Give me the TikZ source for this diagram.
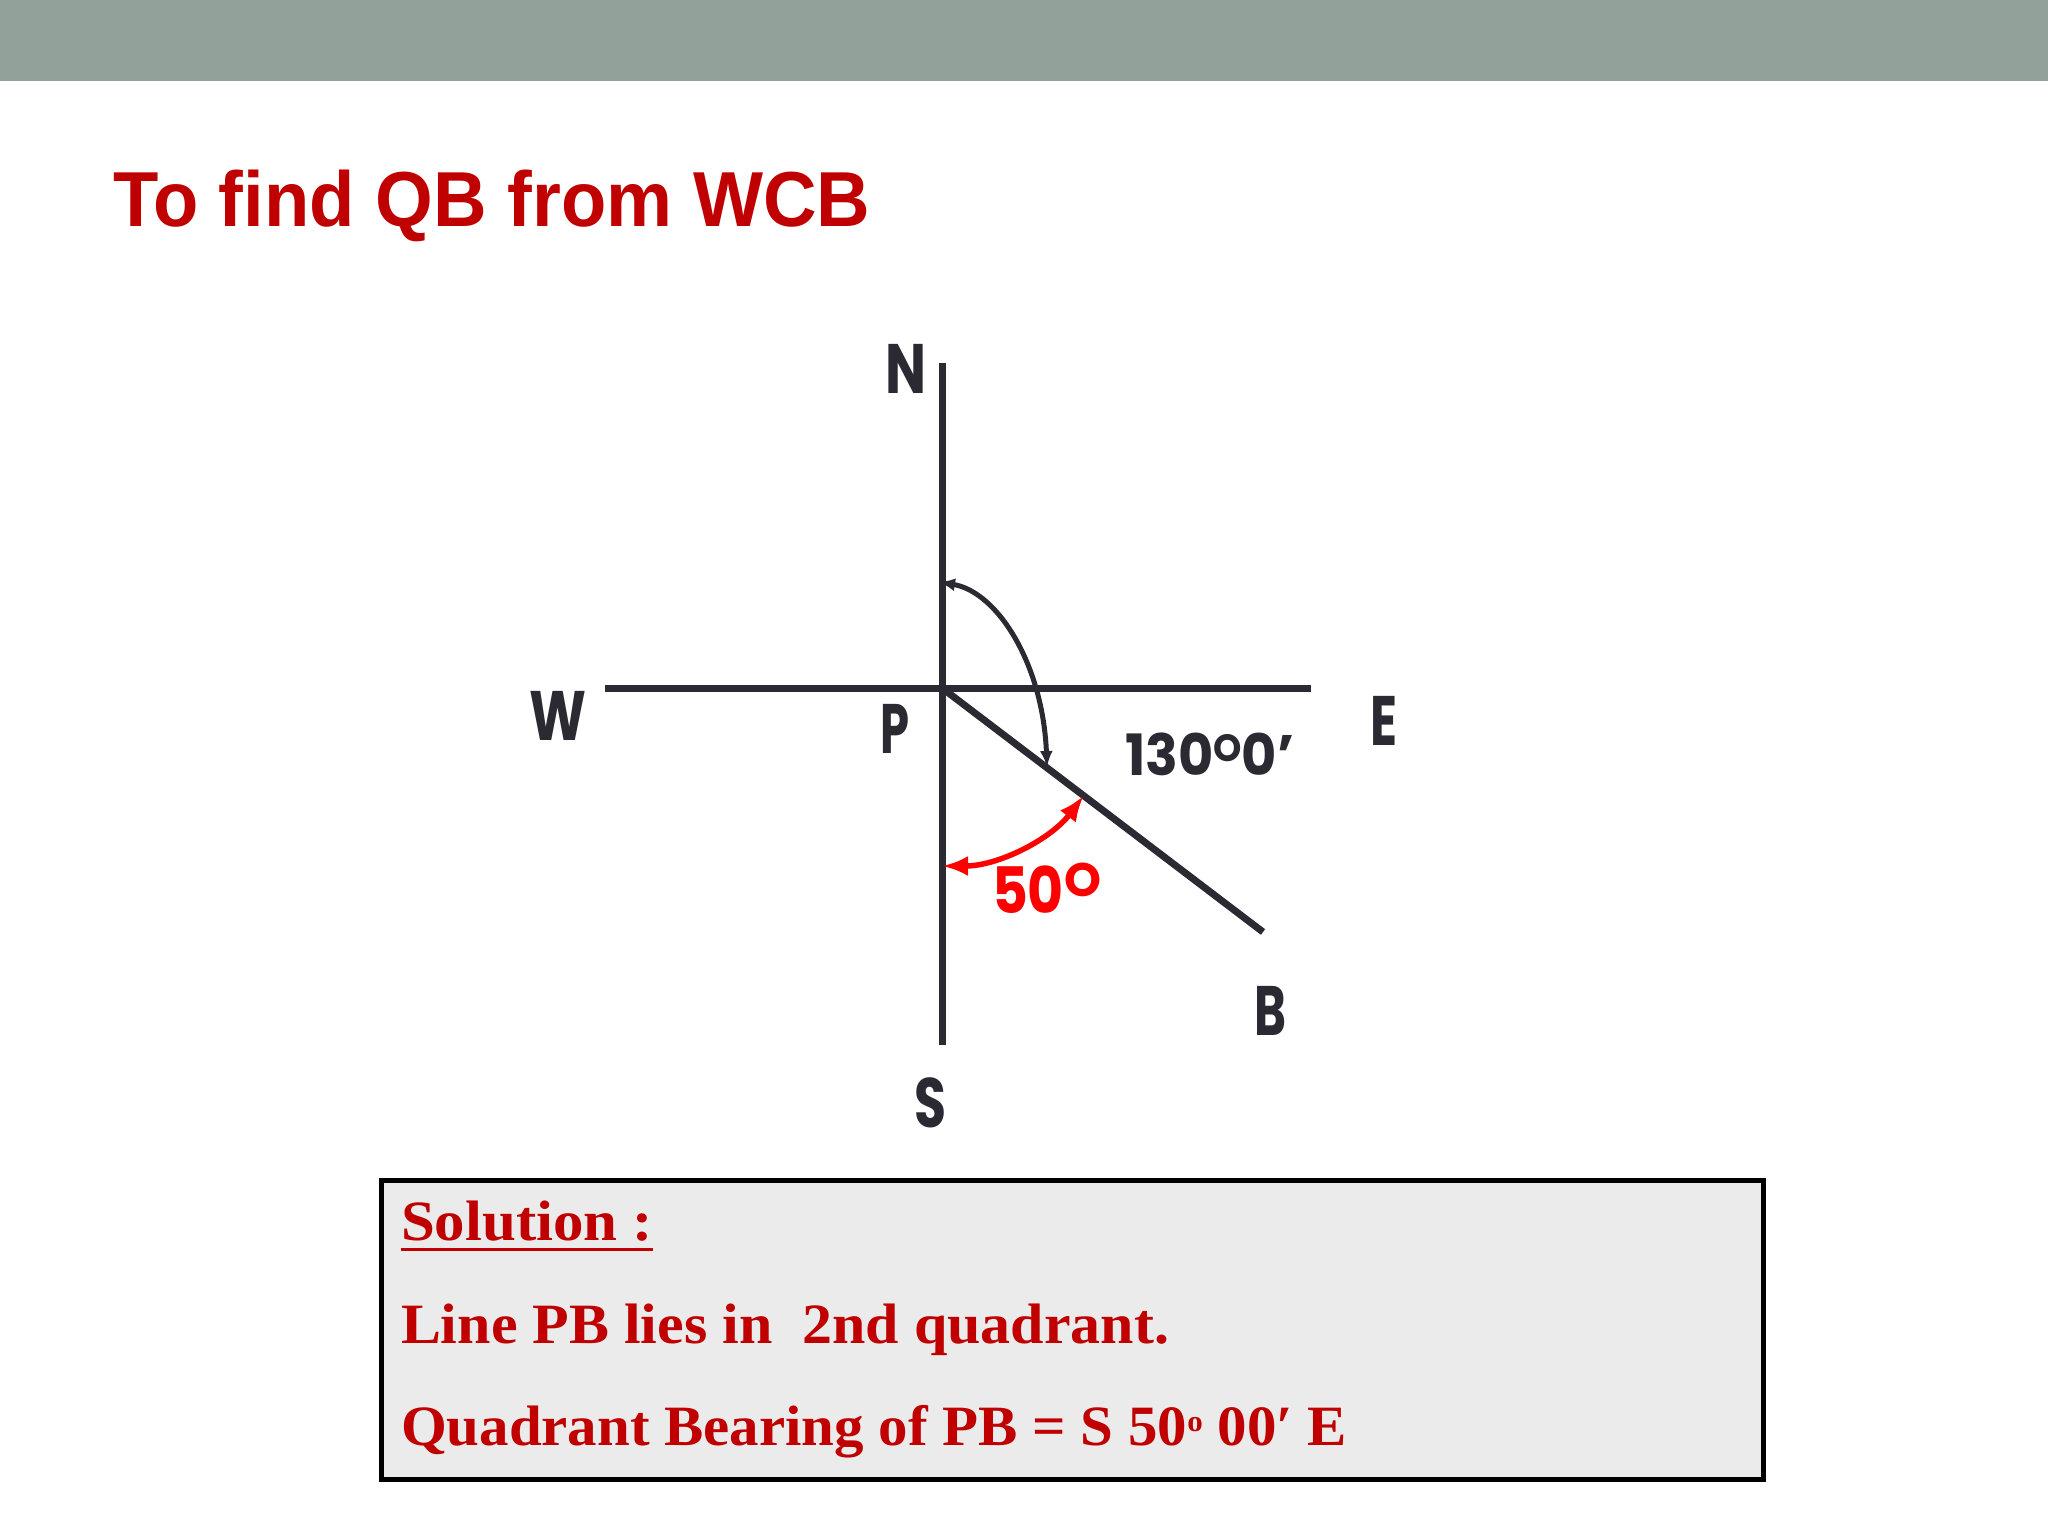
\documentclass[tikz,border=0pt]{standalone}
\usepackage{fontspec}
\setmainfont{Liberation Serif}
\newfontfamily\titlefont{Liberation Sans}
\newfontfamily\geofont{Poppins}
\usetikzlibrary{arrows.meta,calc}
\definecolor{barcol}{HTML}{92A199}
\definecolor{titlered}{HTML}{C00000}
\definecolor{ink}{HTML}{2B2A32}
\definecolor{boxfill}{HTML}{EBEBEB}
\definecolor{brightred}{HTML}{FF0000}
\newcommand{\fitw}[2]{\resizebox{#1}{\height}{#2}}
\begin{document}
\begin{tikzpicture}[x=1pt,y=-1pt,
  axis/.style={draw=ink,line width=7pt},
  lbl/.style={inner sep=0pt,outer sep=0pt,anchor=base west,text=ink,
    font=\geofont\bfseries\fontsize{70}{80}\selectfont},
  soltext/.style={inner sep=0pt,outer sep=0pt,anchor=base west,text=titlered,
    font=\bfseries\fontsize{57}{66}\selectfont},
  blackarc/.style={draw=ink,line width=5pt,{Latex[length=16pt,width=13pt]}-{Latex[length=16pt,width=13pt]}},
  redarc/.style={draw=brightred,line width=5.5pt,{Latex[length=26pt,width=20pt]}-{Latex[length=26pt,width=20pt]}}]
\useasboundingbox (0,0) rectangle (2048,1536);
\fill[white] (0,0) rectangle (2048,1536);
% top bar
\fill[barcol] (0,0) rectangle (2048,81);
% title
\node[inner sep=0pt,anchor=base west,text=titlered,font=\titlefont\bfseries\fontsize{78}{90}\selectfont]
  (title) at (113,226) {\fitw{757pt}{To find QB from WCB}};
% coordinates
\coordinate (P) at (942,688);
\coordinate (Ntop) at (942,363);
\coordinate (Sbot) at (942,1045);
\coordinate (Wend) at (605,688);
\coordinate (Eend) at (1311,688);
\coordinate (Bend) at (1263,932);
\coordinate (a1) at (939,582);
\coordinate (a2) at (1047,767);
% axes
\draw[axis] (Ntop) -- (Sbot);
\draw[axis] (Wend) -- (Eend);
\draw[axis] (P) -- (Bend);
% black arc (WCB)
\draw[blackarc] (a1) .. controls (998,592) and (1043,665) .. (a2);
% red arc (QB)
\coordinate (r1) at ($(P)+(37.2:178)$);
\draw[redarc] (r1) arc[start angle=37.2, end angle=90, radius=178];
% labels
\node[lbl] (lN) at (885,393) {\fitw{41pt}{N}};
\node[lbl] (lW) at (529,740) {\fitw{57pt}{W}};
\node[lbl] (lP) at (880,753) {\fitw{29pt}{P}};
\node[lbl] (lE) at (1370,745) {\fitw{27pt}{E}};
\node[lbl] (lS) at (914,1127) {\fitw{32pt}{S}};
\node[lbl] (lB) at (1254,1035) {\fitw{32pt}{B}};
\node[lbl,font=\geofont\bfseries\fontsize{57}{64}\selectfont] (l130) at (1125,775)
  {\fitw{169pt}{130\raisebox{14pt}{\fontsize{38}{40}\selectfont O}0’}};
\node[lbl,text=brightred,font=\geofont\bfseries\fontsize{64}{70}\selectfont] (l50) at (992,913)
  {\fitw{72pt}{50}\raisebox{17pt}{\fontsize{47}{50}\selectfont O}};
% solution box
\node[draw=black,line width=5pt,fill=boxfill,inner sep=0pt,minimum width=1382pt,minimum height=299pt,anchor=north west]
  (box) at (379,1178) {};
\node[soltext] (sol) at (401,1240) {\fitw{252pt}{Solution :}};
\draw[titlered,line width=3pt] ($(sol.base west)+(0,9)$) -- ($(sol.base east)+(0,9)$);
\node[soltext] (line2) at (401,1343) {\fitw{768pt}{Line PB lies in\ \ 2nd quadrant.}};
\node[soltext] (line3) at (401,1445) {\fitw{946pt}{Quadrant Bearing of PB = S 50\raisebox{14pt}{\fontsize{30}{32}\selectfont o} 00′ E}};
\end{tikzpicture}
\end{document}
